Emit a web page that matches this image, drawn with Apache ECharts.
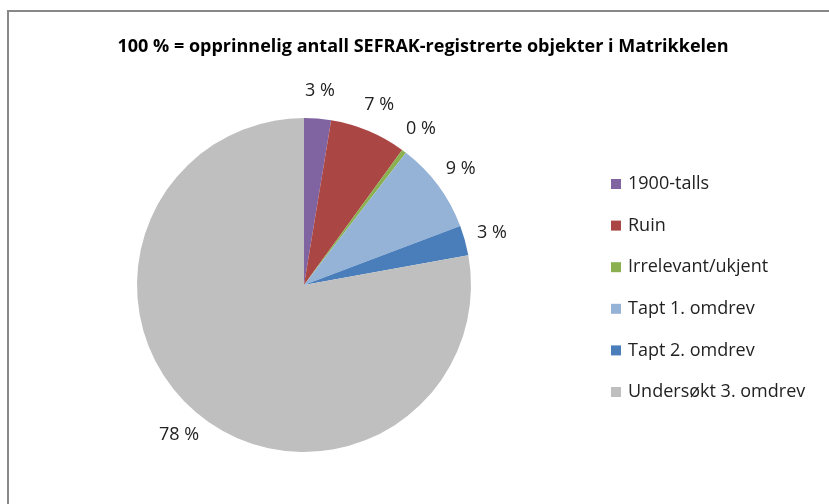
<!DOCTYPE html>
<html>
<head>
<meta charset="utf-8">
<title>SEFRAK</title>
<script src="https://cdn.jsdelivr.net/npm/echarts@6/dist/echarts.min.js"></script>
<style>
  html, body { margin: 0; padding: 0; background: #fff; }
  #chart { width: 829px; height: 504px; }
</style>
</head>
<body>
<div id="chart"></div>
<script>
// categories and shares (%)
const categories = ['1900-talls', 'Ruin', 'Irrelevant/ukjent', 'Tapt 1. omdrev', 'Tapt 2. omdrev', 'Undersøkt 3. omdrev']
const shares = [2.6, 7.4, 0.45, 8.8, 2.9, 77.85]
const colors = ['#8064A2', '#AA4644', '#8AB04F', '#95B3D7', '#4A7EBB', '#BFBFBF']
const titleText = '100 % = opprinnelig antall SEFRAK-registrerte objekter i Matrikkelen'

const fontFamily = '"Open Sans", "Liberation Sans", sans-serif'

const myChart = echarts.init(document.getElementById('chart'), null, { renderer: 'canvas' })

myChart.setOption({
  animation: false,
  color: colors,
  title: {
    text: titleText,
    left: 418,
    top: 33,
    textAlign: 'center',
    textStyle: {
      fontFamily: fontFamily,
      fontSize: 18,
      fontWeight: 'bold',
      color: '#000'
    }
  },
  legend: {
    orient: 'vertical',
    left: 606,
    top: 169,
    icon: 'rect',
    itemWidth: 10,
    itemHeight: 10,
    itemGap: 21.6,
    data: categories,
    textStyle: {
      fontFamily: fontFamily,
      fontSize: 18,
      lineHeight: 20,
      color: '#222',
      padding: [0, 0, 0, 2]
    }
  },
  graphic: [
    {
      // chart frame
      type: 'rect',
      shape: { x: 8, y: 11, width: 900, height: 600 },
      style: { fill: 'none', stroke: '#888', lineWidth: 2 },
      silent: true
    }
  ],
  series: [
    {
      type: 'pie',
      center: [304, 285],
      radius: 167,
      startAngle: 90,
      clockwise: true,
      avoidLabelOverlap: false,
      data: categories.map((name, i) => ({ name: name, value: shares[i] })),
      itemStyle: { borderWidth: 0 },
      emphasis: { disabled: true },
      label: {
        show: true,
        position: 'outside',
        distanceToLabelLine: 0,
        formatter: p => Math.round(p.percent) + ' %',
        fontFamily: fontFamily,
        fontSize: 18,
        color: '#222'
      },
      labelLine: {
        show: false,
        length: 28,
        length2: 0
      },
      // centre each percentage on its anchor point, like the original
      labelLayout: () => ({ align: 'center', verticalAlign: 'middle' })
    }
  ]
})
</script>
</body>
</html>
